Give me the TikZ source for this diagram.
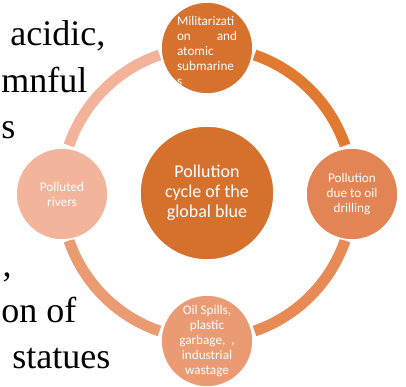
\documentclass[tikz,border=0pt]{standalone}
\usepackage{fontspec}
\setmainfont{Liberation Serif}
\newfontfamily\calibri{Carlito}
\definecolor{hubcol}{RGB}{214,112,45}
\definecolor{topcol}{RGB}{215,113,46}
\definecolor{rightcol}{RGB}{226,132,83}
\definecolor{bottomcol}{RGB}{234,155,116}
\definecolor{leftcol}{RGB}{242,181,155}
\definecolor{arcone}{RGB}{242,179,154}
\definecolor{arctwo}{RGB}{224,122,48}
\definecolor{arcthree}{RGB}{230,139,86}
\definecolor{arcfour}{RGB}{235,155,114}

\begin{document}
\begin{tikzpicture}[
    every node/.style={inner sep=0pt},
    stage/.style={circle, draw=white, line width=0.8pt, minimum size=46pt,
        text=white, align=center, font=\calibri\fontsize{6.6}{7.5}\selectfont},
    hub/.style={stage, minimum size=67pt, font=\calibri\fontsize{9}{10}\selectfont},
    ring/.style={line width=5.5pt},
    page/.style={font=\fontsize{18}{21}\selectfont}
]
    \useasboundingbox (-103.5pt,-96.5pt) rectangle (99.5pt,96.5pt);

    % text of the page behind the diagram
    \node[page, anchor=base west] (l1) at (-98.5pt,74pt) {acidic,};
    \node[page, anchor=base west] (l2) at (-103pt,50.5pt) {mnful};
    \node[page, anchor=base west] (l3) at (-103pt,27.5pt) {s};
    \node[page, anchor=base east] (l4) at (-97.5pt,-41.5pt) {,};
    \node[page, anchor=base west] (l5) at (-103pt,-64.5pt) {on of};
    \node[page, anchor=base west] (l6) at (-97.5pt,-87.5pt) {statues};

    % ring
    \coordinate (a1) at (161:73pt);
    \coordinate (a2) at (71:73pt);
    \coordinate (a3) at (-19:73pt);
    \coordinate (a4) at (-109:73pt);
    \draw[ring, arcone] (a1) arc[start angle=161, end angle=109, radius=73pt];
    \draw[ring, arctwo] (a2) arc[start angle=71, end angle=19, radius=73pt];
    \draw[ring, arcthree] (a3) arc[start angle=-19, end angle=-71, radius=73pt];
    \draw[ring, arcfour] (a4) arc[start angle=-109, end angle=-161, radius=73pt];

    % circles
    \node[hub, fill=hubcol] (hub) at (0,0) {Pollution\\cycle of the\\global blue};
    \node[stage, fill=topcol] (war) at (90:72.5pt) {};
    \node[stage, fill=rightcol] (oil) at (-0.4:72.5pt) {Pollution\\due to oil\\drilling};
    \node[stage, fill=bottomcol] (spill) at (-90:74pt) {Oil Spills,\\plastic\\garbage,\ \ ,\\industrial\\wastage};
    \node[stage, fill=leftcol] (river) at (180.4:72.5pt) {Polluted\\rivers};
    \node[stage, draw=none, fill=none, minimum size=0pt, text width=30pt, align=left]
        (wartext) at ([yshift=-1.5pt]war.center)
        {Militarizati\\on\hfill and\\atomic\\submarine\\s};
\end{tikzpicture}
\end{document}
